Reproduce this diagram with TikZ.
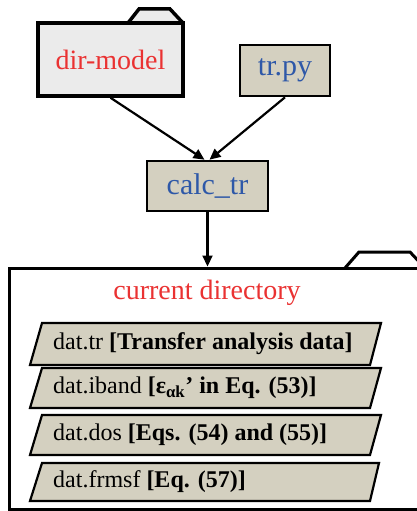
\documentclass[tikz,border=0pt]{standalone}
\usepackage{fontspec}
\setmainfont{Liberation Serif}
\usepackage{xcolor}
\usetikzlibrary{positioning,arrows.meta}
\definecolor{boxtan}{RGB}{212,208,192}
\definecolor{foldergray}{RGB}{235,235,235}
\definecolor{fileblue}{RGB}{46,88,168}
\definecolor{dirred}{RGB}{234,50,50}

\begin{document}
\begin{tikzpicture}[
          x=1pt, y=-1pt,
          lbl/.style={font=\fontsize{28}{32}\selectfont},
          fileA/.style={draw, line width=2.6pt, fill=boxtan, text=fileblue,
                        font=\fontsize{30}{34}\selectfont, inner sep=0pt},
          folderA/.style={draw, line width=3.5pt, fill=foldergray},
          folderB/.style={draw, line width=3pt, fill=white},
          datA/.style={draw, line width=2.2pt, fill=boxtan},
          datlbl/.style={anchor=west, font=\fontsize{24}{28}\selectfont, inner sep=0pt},
          arr/.style={-{Triangle[length=11pt,width=10pt]}, line width=2.2pt}
      ]
        \clip (0,0) rectangle (417,511);
        % folder tabs
        \draw[folderA] (128,23) -- (139,9) -- (170,9) -- (183,23);
        \draw[folderB] (345,268) -- (359,252) -- (410,252) -- (425,268);
        % inputs
        \node[folderA, minimum width=145, minimum height=73, inner sep=0pt,
              lbl, text=dirred] (dirmodel) at (110.5,59.5) {dir-model};
        \node[fileA, minimum width=90, minimum height=51] (trpy) at (285,70.5) {tr.py};
        \node[fileA, minimum width=121, minimum height=50] (calctr) at (207.5,186) {calc\_tr};
        \draw[arr] (dirmodel.south) -- ([xshift=-3pt]calctr.north);
        \draw[arr] (trpy.south) -- ([xshift=2pt]calctr.north);
        % output directory
        \node[folderB, minimum width=421, minimum height=241] (curdir) at (219.5,388.5) {};
        \draw[arr] (calctr.south) -- (calctr.south |- curdir.north);
        \node[lbl, text=dirred] (curlbl) at (207,293) {current directory};
        \draw[datA] (42,323) -- (381,323) -- (370,365) -- (30,365) -- cycle;
        \draw[datA] (42,368) -- (381,368) -- (370,408) -- (30,408) -- cycle;
        \draw[datA] (42,415) -- (381,415) -- (370,455) -- (30,455) -- cycle;
        \draw[datA] (42,463) -- (379,463) -- (370,501) -- (30,501) -- cycle;
        \node[datlbl] (dtr) at (53,344) {dat.tr \textbf{[Transfer analysis data]}};
        \node[datlbl] (diband) at (53,388) {dat.iband \textbf{[ε\textsubscript{αk}’ in Eq. (53)]}};
        \node[datlbl] (ddos) at (53,435) {dat.dos \textbf{[Eqs. (54) and (55)]}};
        \node[datlbl] (dfrmsf) at (53,482) {dat.frmsf \textbf{[Eq. (57)]}};
      \end{tikzpicture}
\end{document}
